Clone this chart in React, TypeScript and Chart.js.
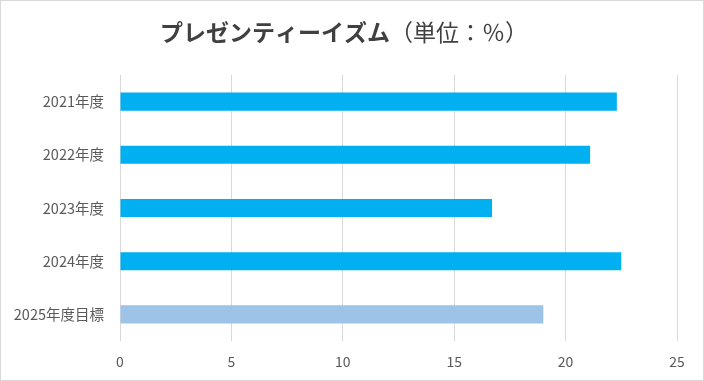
import React, { useEffect, useRef } from "react";
import { Chart, registerables } from "chart.js";

Chart.register(...registerables);

const categories = ["2021年度", "2022年度", "2023年度", "2024年度", "2025年度目標"];
const values = [22.3, 21.1, 16.7, 22.5, 19.0];
const barColors = ["#00B0F0", "#00B0F0", "#00B0F0", "#00B0F0", "#9DC3E6"];
const titleMain = "プレゼンティーイズム";
const titleSub = "（単位：％）";

const FONT = '"Noto Sans CJK JP", "Noto Sans", sans-serif';

const titlePlugin = {
  id: "mixedTitle",
  afterDraw(chart: any) {
    const ctx = chart.ctx;
    ctx.save();
    ctx.textBaseline = "middle";
    ctx.fillStyle = "#404040";
    const boldFont = `bold 23px ${FONT}`;
    const normFont = `23px ${FONT}`;
    ctx.font = boldFont;
    const w1 = ctx.measureText(titleMain).width;
    ctx.font = normFont;
    const w2 = ctx.measureText(titleSub).width;
    const cx = 343;
    const x0 = cx - (w1 + w2) / 2;
    const y = 31;
    ctx.font = boldFont;
    ctx.textAlign = "left";
    ctx.fillText(titleMain, x0, y);
    ctx.font = normFont;
    ctx.fillText(titleSub, x0 + w1, y);
    ctx.restore();
  },
};

export default function App() {
  const ref = useRef<HTMLCanvasElement>(null);
  useEffect(() => {
    document.body.style.margin = "0";
    const chart = new Chart(ref.current!, {
      type: "bar",
      data: {
        labels: categories,
        datasets: [
          {
            data: values,
            backgroundColor: barColors,
            borderWidth: 0,
            categoryPercentage: 1,
            barPercentage: 0.34,
          },
        ],
      },
      options: {
        indexAxis: "y",
        animation: false,
        responsive: false,
        maintainAspectRatio: false,
        layout: { padding: { top: 74, right: 26, bottom: 0, left: 0 } },
        plugins: {
          legend: { display: false },
          title: { display: false },
          tooltip: { enabled: false },
        },
        scales: {
          x: {
            min: 0,
            max: 25,
            ticks: {
              stepSize: 5,
              color: "#595959",
              font: { family: FONT, size: 14 },
              padding: 12,
            },
            grid: { color: "#d9d9d9", lineWidth: 1, drawTicks: false },
            border: { display: false },
            afterFit: (s: any) => {
              s.height = 39;
            },
          },
          y: {
            ticks: {
              color: "#595959",
              font: { family: FONT, size: 14.5 },
              padding: 16,
            },
            grid: { display: false, drawTicks: false },
            border: { display: false },
            afterFit: (s: any) => {
              s.width = 119;
            },
          },
        },
      },
      plugins: [titlePlugin],
    });
    return () => chart.destroy();
  }, []);
  return (
    <div
      style={{
        position: "fixed",
        left: 0,
        top: 0,
        width: 704,
        height: 381,
        boxSizing: "border-box",
        border: "1px solid #d9d9d9",
        background: "#fff",
      }}
    >
      <canvas ref={ref} width={702} height={379} style={{ display: "block" }} />
    </div>
  );
}
